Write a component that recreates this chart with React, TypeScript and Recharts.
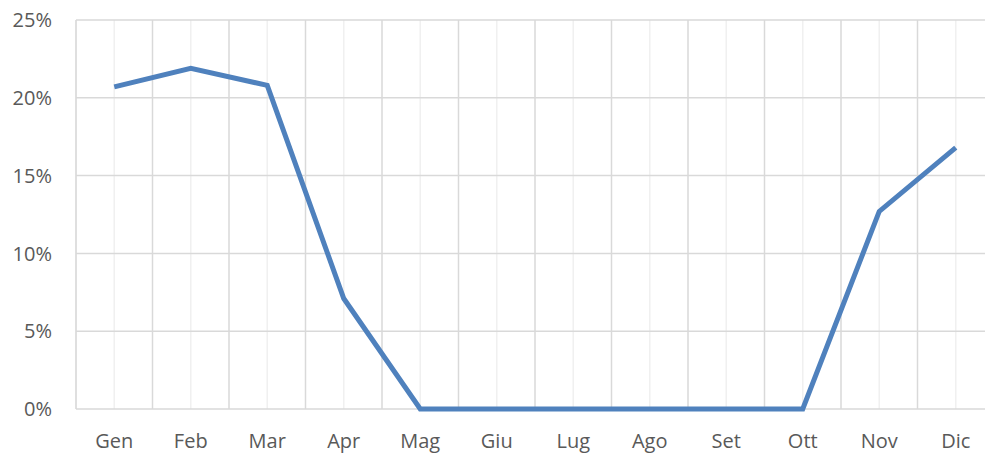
import React from 'react';
import { LineChart, Line, XAxis, YAxis, CartesianGrid } from 'recharts';

const months = ['Gen', 'Feb', 'Mar', 'Apr', 'Mag', 'Giu', 'Lug', 'Ago', 'Set', 'Ott', 'Nov', 'Dic'];
const values = [20.7, 21.9, 20.8, 7.1, 0, 0, 0, 0, 0, 0, 12.7, 16.8];
const yTicks = [0, 5, 10, 15, 20, 25];

const data = months.map((month, i) => ({ month, value: values[i] }));

const tickStyle = { fill: '#595959', fontSize: 20, fontFamily: 'Open Sans' };

// major vertical lines sit on the category boundaries
const boundaryLines = ({ offset }: any) =>
  Array.from({ length: months.length + 1 }, (_, i) => offset.left + (i * offset.width) / months.length);

export default function App() {
  return (
    <div style={{ position: 'absolute', left: 0, top: 0, width: 985, height: 459, overflow: 'hidden', background: '#fff' }}>
      <LineChart width={1000} height={459} data={data} margin={{ top: 20, right: 6, bottom: 20, left: 0 }}>
        <XAxis
          dataKey="month"
          scale="band"
          tickLine={false}
          axisLine={false}
          tickSize={0}
          tickMargin={25}
          height={30}
          interval={0}
          tick={tickStyle}
        />
        <YAxis
          domain={[0, 25]}
          ticks={yTicks}
          tickFormatter={(v) => `${v}%`}
          tickLine={false}
          axisLine={false}
          tickSize={0}
          tickMargin={24}
          width={76}
          tick={tickStyle}
        />
        <CartesianGrid horizontal={false} stroke="#f0f0f0" strokeWidth={1.5} />
        <CartesianGrid stroke="#d9d9d9" strokeWidth={1.5} verticalCoordinatesGenerator={boundaryLines} />
        <Line
          type="linear"
          dataKey="value"
          stroke="#4f81bd"
          strokeWidth={5}
          dot={false}
          activeDot={false}
          isAnimationActive={false}
        />
      </LineChart>
    </div>
  );
}
